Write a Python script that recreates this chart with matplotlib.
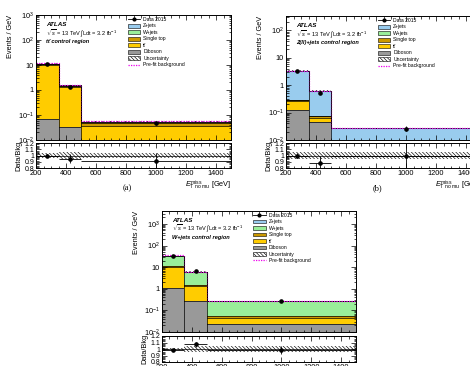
import numpy as np
import matplotlib
matplotlib.use("Agg")
import matplotlib.pyplot as plt
from matplotlib.lines import Line2D
from matplotlib.patches import Patch
from matplotlib.ticker import FixedLocator, FuncFormatter, MultipleLocator, LogLocator, NullFormatter

plt.rcParams['font.family'] = ['Liberation Sans', 'DejaVu Sans']
plt.rcParams['mathtext.fontset'] = 'custom'
plt.rcParams['mathtext.rm'] = 'Liberation Sans'
plt.rcParams['mathtext.it'] = 'Liberation Sans:italic'
plt.rcParams['mathtext.bf'] = 'Liberation Sans:bold'
plt.rcParams['hatch.linewidth'] = 0.45

W, H = 470, 366

# ---------------- data ----------------
bin_edges = [200, 350, 500, 1500]
x_ticks = [200, 400, 600, 800, 1000, 1200, 1400]
ratio_ticks = [0.8, 0.9, 1.0, 1.1, 1.2]
ratio_tick_labels = ["0.8", "0.9", "1", "1.1", "1.2"]

# (a) ttbar control region
a_diboson = [0.068, 0.034, 0.006]
a_ttbar = [9.9, 1.27, 0.029]
a_singletop = [0.9, 0.15, 0.013]
a_wjets = [0.3, 0.05, 0.005]
a_zjets = [0.05, 0.01, 0.001]
a_data = [11.0, 1.35, 0.048]
a_prefit = [11.9, 1.6, 0.058]
a_ratio = [1.0, 0.95, 0.91]
a_band = [0.045, 0.05, 0.045]

# (b) Z(ll)+jets control region
b_diboson = [0.12, 0.045, 0.003]
b_ttbar = [0.14, 0.02, 0.002]
b_singletop = [0.02, 0.007, 0.0005]
b_wjets = [0.01, 0.002, 0.0003]
b_zjets = [3.0, 0.53, 0.021]
b_data = [3.2, 0.53, 0.026]
b_prefit = [3.4, 0.62, 0.027]
b_ratio = [1.0, 0.885, 1.0]
b_band = [0.06, 0.06, 0.06]

# (c) W+jets control region
c_diboson = [1.1, 0.26, 0.024]
c_ttbar = [9.4, 1.05, 0.02]
c_singletop = [0.9, 0.17, 0.011]
c_wjets = [21.0, 4.5, 0.21]
c_zjets = [0.4, 0.1, 0.005]
c_data = [31.5, 6.4, 0.265]
c_prefit = [35.0, 6.2, 0.28]
c_ratio = [0.99, 1.07, 0.985]
c_band = [0.02, 0.045, 0.045]

colors = ["#999999", "#FFCC00", "#CC9900", "#99EE99", "#99CCEE"]
legend_labels = ["Z+jets", "W+jets", "Single top", "tt\u0304", "Diboson"]
legend_colors = ["#99CCEE", "#99EE99", "#CC9900", "#FFCC00", "#999999"]

HATCH = '\\' * 9
FS_TICK = 5.3
FS_LAB = 5.3
FS_LEG = 3.6
FS_TXT = 4.1


def rect(left, top, right, bottom):
    return [left / W, 1 - bottom / H, (right - left) / W, (bottom - top) / H]


def logfmt(v, pos):
    e = int(round(np.log10(v)))
    if e == 0:
        return "1"
    if e == 1:
        return "10"
    return r"$10^{%d}$" % e


def style_axes(ax):
    ax.tick_params(which='both', direction='in', top=True, right=True,
                   labelsize=FS_TICK, width=0.5, pad=1.5)
    ax.tick_params(which='major', length=3.5)
    ax.tick_params(which='minor', length=1.8)
    for s in ax.spines.values():
        s.set_linewidth(0.7)


def panel(main_px, ratio_px, comps, data, prefit, ratio, band, region, ymax, label, label_xy):
    edges = np.array(bin_edges, dtype=float)
    centers = 0.5 * (edges[1:] + edges[:-1])
    widths = edges[1:] - edges[:-1]
    ax = fig.add_axes(rect(*main_px))
    rx = fig.add_axes(rect(*ratio_px))

    base = np.full(3, 1e-6)
    for vals, col in zip(comps, colors):
        top = base + np.array(vals)
        ax.stairs(top, edges, baseline=base, fill=True, color=col, lw=0)
        ax.stairs(top, edges, baseline=None, color='black', lw=0.5)
        base = top
    total = base
    for i in range(1, 3):
        ax.plot([edges[i], edges[i]], [1e-6, max(total[i - 1], total[i])], color='black', lw=0.5)
    unc = total * np.array(band)
    ax.stairs(total + unc, edges, baseline=total - unc, fill=True, facecolor='none',
              edgecolor='black', hatch=HATCH, lw=0)
    ax.stairs(prefit, edges, baseline=None, color='#EE00EE', lw=0.9, linestyle=(0, (1, 1)))
    d = np.array(data)
    derr = np.sqrt(d * widths) / widths
    ax.errorbar(centers, d, yerr=derr, fmt='o', ms=2.3, color='black', lw=0.6, capsize=0)

    ax.set_yscale('log')
    ax.set_xlim(bin_edges[0], bin_edges[-1])
    ax.set_ylim(0.01, ymax)
    ax.yaxis.set_major_locator(LogLocator(base=10, numticks=20))
    ax.yaxis.set_major_formatter(FuncFormatter(logfmt))
    ax.yaxis.set_minor_locator(LogLocator(base=10, subs=np.arange(2, 10), numticks=20))
    ax.yaxis.set_minor_formatter(NullFormatter())
    ax.xaxis.set_major_locator(FixedLocator(x_ticks))
    ax.xaxis.set_minor_locator(MultipleLocator(50))
    ax.set_xticklabels([])
    style_axes(ax)
    ax.set_ylabel("Events / GeV", fontsize=FS_LAB, ha='right', y=1.0, labelpad=3)

    ax.text(0.05, 0.925, "ATLAS", transform=ax.transAxes, fontsize=FS_TXT + 0.4,
            fontweight='bold', fontstyle='italic', va='center')
    ax.text(0.05, 0.857, r"$\sqrt{s}$ = 13 TeV $\int$Ldt = 3.2 fb$^{-1}$", transform=ax.transAxes,
            fontsize=FS_TXT, va='center')
    ax.text(0.05, 0.785, region, transform=ax.transAxes, fontsize=FS_TXT,
            fontweight='bold', fontstyle='italic', va='center')

    handles = [Line2D([], [], marker='o', ms=2.0, lw=0.6, color='black')]
    for c in legend_colors:
        handles.append(Patch(facecolor=c, edgecolor='black', lw=0.4))
    handles.append(Patch(facecolor='white', edgecolor='black', hatch=HATCH, lw=0.4))
    handles.append(Line2D([], [], color='#EE00EE', lw=0.9, linestyle=(0, (1, 1))))
    labels = ["Data 2015"] + legend_labels + ["Uncertainty", "Pre-fit background"]
    ax.legend(handles, labels, loc='upper left', bbox_to_anchor=(0.47, 0.985), frameon=False,
              fontsize=FS_LEG, handlelength=2.5, handleheight=0.8, labelspacing=0.3,
              borderpad=0, borderaxespad=0, handletextpad=0.6)

    # ratio
    rb = np.array(band)
    rx.stairs(1 + rb, edges, baseline=1 - rb, fill=True, facecolor='none',
              edgecolor='black', hatch=HATCH, lw=0)
    rx.axhline(1.0, color='black', lw=0.5)
    r = np.array(ratio)
    rerr = r / np.sqrt(d * widths)
    rx.errorbar(centers, r, xerr=widths / 2, yerr=rerr, fmt='o', ms=2.3, color='black',
                lw=0.6, capsize=0)
    rx.set_xlim(bin_edges[0], bin_edges[-1])
    rx.set_ylim(0.8, 1.2)
    rx.yaxis.set_major_locator(FixedLocator(ratio_ticks))
    rx.set_yticklabels(ratio_tick_labels)
    rx.yaxis.set_minor_locator(MultipleLocator(0.02))
    rx.xaxis.set_major_locator(FixedLocator(x_ticks))
    rx.xaxis.set_minor_locator(MultipleLocator(50))
    style_axes(rx)
    rx.tick_params(axis='y', labelsize=FS_TICK - 0.3, pad=1)
    rx.set_ylabel("Data/Bkg", fontsize=FS_LAB, labelpad=2)
    rx.set_xlabel(r"$E_{\mathrm{T\ no\ mu}}^{\mathrm{miss}}$ [GeV]", fontsize=FS_LAB,
                  ha='right', x=1.0, labelpad=1)
    fig.align_ylabels([ax, rx])
    if label:
        fig.text(label_xy[0] / W, 1 - label_xy[1] / H, label, fontsize=6, ha='center', va='center',
                 family='Liberation Serif')


fig = plt.figure(figsize=(W / 100, H / 100), dpi=100)

panel((36, 15, 231, 140), (36, 143, 231, 168),
      [a_diboson, a_ttbar, a_singletop, a_wjets, a_zjets], a_data, a_prefit, a_ratio, a_band,
      "tt\u0304 control region", 1000, "(a)", (127, 188))

panel((286, 16, 481, 140), (286, 143, 481, 168),
      [b_diboson, b_ttbar, b_singletop, b_wjets, b_zjets], b_data, b_prefit, b_ratio, b_band,
      "Z(ll)+jets control region", 10 ** 2.52, "(b)", (377, 188))

panel((162, 211, 356, 332), (162, 336, 356, 362),
      [c_diboson, c_ttbar, c_singletop, c_wjets, c_zjets], c_data, c_prefit, c_ratio, c_band,
      "W+jets control region", 10 ** 3.6, None, None)

fig.savefig("out.png", dpi=100)
